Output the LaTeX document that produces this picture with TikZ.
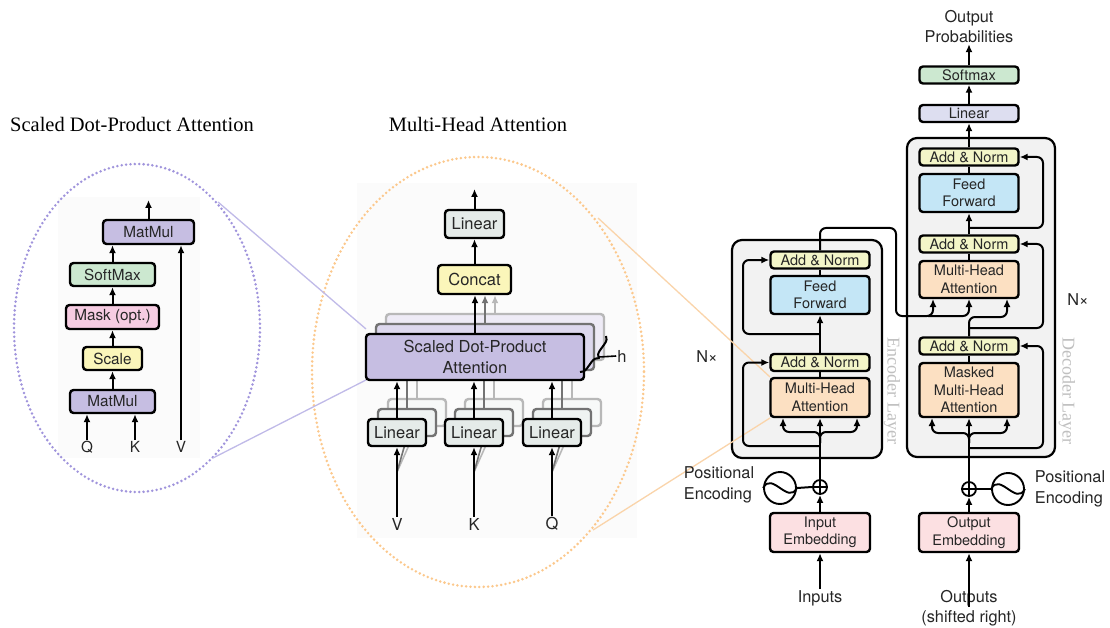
\documentclass[tikz,border=0pt]{standalone}
\usepackage{fontspec}
\setmainfont{Liberation Serif}
\newfontfamily\hv{TeX Gyre Heros}
\usetikzlibrary{arrows.meta,decorations.pathreplacing,calc}
\definecolor{txt}{RGB}{38,38,38}
\definecolor{cAdd}{RGB}{243,245,200}
\definecolor{cFF}{RGB}{196,230,246}
\definecolor{cMHA}{RGB}{252,224,194}
\definecolor{cEmb}{RGB}{252,224,226}
\definecolor{cLinD}{RGB}{221,222,240}
\definecolor{cSoft}{RGB}{204,232,208}
\definecolor{cMat}{RGB}{198,190,226}
\definecolor{cMask}{RGB}{246,204,226}
\definecolor{cScale}{RGB}{251,246,186}
\definecolor{cLinM}{RGB}{229,235,233}
\definecolor{cLayer}{RGB}{242,242,242}
\definecolor{cPurL}{RGB}{160,148,220}
\definecolor{cPurLine}{RGB}{192,186,232}
\definecolor{cOrL}{RGB}{252,200,140}
\definecolor{cOrLine}{RGB}{250,212,170}
\definecolor{cLayerTxt}{RGB}{192,192,192}
\tikzset{
  bx/.style 2 args={draw=black, line width=2.4pt, rounded corners=3.5pt, inner sep=0pt,
     align=center, text=txt, minimum width=#1pt, minimum height=#2pt},
  fL/.style={font=\hv\fontsize{15.3}{17}\selectfont},
  fM/.style={font=\hv\fontsize{16.5}{21}\selectfont},
  fR/.style={font=\hv\fontsize{14.5}{17.5}\selectfont},
  lbl/.style={text=txt, inner sep=1pt, align=center, font=\hv\fontsize{16.3}{20.5}\selectfont},
  conn/.style={line width=2pt, rounded corners=6pt},
  arr/.style={line width=2pt, rounded corners=6pt, -{Latex[length=8pt,width=7pt]}},
  layerbox/.style={draw=black, line width=2.2pt, rounded corners=10pt, fill=cLayer},
  ttl/.style={text=black, inner sep=0pt, font=\fontsize{20.5}{24}\selectfont},
  laytxt/.style={text=cLayerTxt, rotate=-90, inner sep=0pt, font=\fontsize{18}{20}\selectfont},
  dotell/.style={line width=2.8pt, line cap=round, dash pattern=on 0pt off 4.4pt},
}
\begin{document}
\begin{tikzpicture}[x=1pt,y=-1pt]
\useasboundingbox (0,0) rectangle (1110,628);
\fill[white] (0,0) rectangle (1110,628);
% faint panel backgrounds
\fill[black!1.5] (58,197) rectangle (200,458);
\fill[black!1.5] (357,183) rectangle (637,538);
% titles
\node[ttl] (t1) at (132,124) {Scaled Dot-Product Attention};
\node[ttl] (t2) at (478,124) {Multi-Head Attention};
% dotted ellipses
\draw[dotell, cPurL] (137,328) ellipse [x radius=123, y radius=164];
\draw[dotell, cOrL] (478,372) ellipse [x radius=166, y radius=215];
% encoder / decoder layer boxes
\draw[layerbox] (732,240) rectangle (882,458);
\draw[layerbox] (907,138) rectangle (1055,457);
% zoom lines
\draw[cPurLine, line width=1.3pt] (218,202) -- (366,329);
\draw[cPurLine, line width=1.3pt] (213,458) -- (366,380);
\draw[cOrLine, line width=1.3pt] (598,218) -- (770,377);
\draw[cOrLine, line width=1.3pt] (593,530) -- (770,418);

%%%%%%%% Left: Scaled Dot-Product Attention
\node[bx={91}{24}, fL, fill=cMat] (mm2) at (148.5,232) {MatMul};
\node[bx={85}{23}, fL, fill=cSoft] (sm) at (112.5,274.5) {SoftMax};
\node[bx={93}{24}, fL, fill=cMask] (mask) at (112.5,317) {Mask (opt.)};
\node[bx={59}{23}, fL, fill=cScale] (scl) at (112.5,358.5) {Scale};
\node[bx={85}{23}, fL, fill=cMat] (mm1) at (112.5,401.5) {MatMul};
\node[lbl, fL] (lq) at (87,447) {Q};
\node[lbl, fL] (lk) at (135,447) {K};
\node[lbl, fL] (lv) at (181,447) {V};
\coordinate (lout) at (148.5,200);
\draw[arr] (lq.north) -- (lq.north |- mm1.south);
\draw[arr] (lk.north) -- (lk.north |- mm1.south);
\draw[arr] (lv.north) -- (lv.north |- mm2.south);
\draw[arr] (mm1.north) -- (scl.south);
\draw[arr] (scl.north) -- (mask.south);
\draw[arr] (mask.north) -- (sm.south);
\draw[arr] (sm.north) -- (sm.north |- mm2.south);
\draw[arr] (mm2.north) -- (lout);

%%%%%%%% Middle: Multi-Head Attention
\node[bx={59}{28}, fM, fill=cLinM] (lintop) at (474.5,224) {Linear};
\node[bx={73}{29}, fM, fill=cScale] (concat) at (474.5,279.5) {Concat};
\coordinate (mout) at (474.5,189);
\draw[arr] (concat.north) -- (lintop.south);
\draw[arr] (lintop.north) -- (mout);
\foreach \o/\nm/\f/\d in {20/b/30/28, 10/a/60/55} {
  \begin{scope}[shift={(\o,-\o)}]
    \node[bx={218}{46}, fill=cMat!\f!white, draw=black!\d] (sdpa\nm) at (475,357) {};
    \foreach \x/\k in {397/V,474/K,552/Q} {
      \node[bx={58}{27}, fill=cLinM!\f!white, draw=black!\d] (lin\k\nm) at (\x,432.5) {};
      \draw[arr, black!\d] (lin\k\nm.north) -- (lin\k\nm.north |- sdpa\nm.south);
    }
    \draw[arr, black!\d] (sdpa\nm.north) -- (sdpa\nm.north |- concat.south);
  \end{scope}
}
\node[lbl, fM] (mv) at (397,524) {V};
\node[lbl, fM] (mk) at (474,524) {K};
\node[lbl, fM] (mq) at (552,524) {Q};
\foreach \k/\x in {V/397,K/474,Q/552} {
  \draw[line width=1.6pt, black!28] (\x,472) -- (lin\k b.south);
  \draw[line width=1.6pt, black!55] (\x,472) -- (lin\k a.south);
}
\node[bx={218}{46}, fM, fill=cMat] (sdpa) at (475,357) {Scaled Dot-Product\\Attention};
\node[bx={58}{27}, fM, fill=cLinM] (linV) at (397,432.5) {Linear};
\node[bx={58}{27}, fM, fill=cLinM] (linK) at (474,432.5) {Linear};
\node[bx={58}{27}, fM, fill=cLinM] (linQ) at (552,432.5) {Linear};
\draw[arr] (mv.north) -- (linV.south);
\draw[arr] (mk.north) -- (linK.south);
\draw[arr] (mq.north) -- (linQ.south);
\draw[arr] (linV.north) -- (linV.north |- sdpa.south);
\draw[arr] (linK.north) -- (linK.north |- sdpa.south);
\draw[arr] (linQ.north) -- (linQ.north |- sdpa.south);
\draw[arr] (sdpa.north) -- (sdpa.north |- concat.south);
\draw[line width=2pt, decorate, decoration={brace, amplitude=7pt}] (606,336) -- (580,372);
\node[lbl, fM] (hh) at (622,356) {h};
\draw[line width=1.6pt] (599,357) -- (hh.west);

%%%%%%%% Right: Encoder
\node[bx={99}{17}, fR, fill=cAdd] (eAN2) at (820,260) {Add \& Norm};
\node[bx={99}{38}, fR, fill=cFF] (eFF) at (820,295) {Feed\\Forward};
\node[bx={99}{17}, fR, fill=cAdd] (eAN1) at (820,362.5) {Add \& Norm};
\node[bx={99}{39}, fR, fill=cMHA] (eMHA) at (820,397.5) {Multi-Head\\Attention};
\node[bx={100}{39}, fR, fill=cEmb] (eEmb) at (820,532.5) {Input\\Embedding};
\node[circle, draw=black, line width=1.8pt, minimum size=14pt, inner sep=0pt, fill=white] (ePlus) at (820,487) {};
\draw[line width=1.6pt] (ePlus.north) -- (ePlus.south) (ePlus.west) -- (ePlus.east);
\node[circle, draw=black, line width=1.9pt, minimum size=32pt, inner sep=0pt] (eSin) at (780,488) {};
\draw[line width=1.9pt] (eSin.west) .. controls +(9,-17) and +(-9,17) .. (eSin.east);
\draw[line width=2pt] (eSin.east) -- (ePlus.west);
\node[lbl, align=left] (ePE) at (719,485) {Positional\\Encoding};
\node[lbl] (inp) at (820,598) {Inputs};
\node[lbl] (eN) at (707,357) {N×};
\node[laytxt] (eLay) at (892,391) {Encoder Layer};
\draw[arr] (inp.north) -- (eEmb.south);
\draw[arr] (eEmb.north) -- (ePlus.south);
\draw[arr] (ePlus.north) -- (eMHA.south);
\draw[arr] (820,443) |- (783,432) -- (783,418);
\draw[arr] (820,443) |- (857,432) -- (857,418);
\draw[arr] (820,446) -| (743,362.5) -- (eAN1.west);
\draw[conn] (eMHA.north) -- (eAN1.south);
\draw[arr] (eAN1.north) -- (eFF.south);
\draw[arr] (820,334) -| (743,260) -- (eAN2.west);
\draw[conn] (eFF.north) -- (eAN2.south);

%%%%%%%% Right: Decoder
\node[bx={99}{17}, fR, fill=cAdd] (dAN3) at (969,157) {Add \& Norm};
\node[bx={99}{38}, fR, fill=cFF] (dFF) at (969,193) {Feed\\Forward};
\node[bx={99}{17}, fR, fill=cAdd] (dAN2) at (969,244) {Add \& Norm};
\node[bx={99}{37}, fR, fill=cMHA] (dMHA) at (969,279.5) {Multi-Head\\Attention};
\node[bx={99}{17}, fR, fill=cAdd] (dAN1) at (969,346) {Add \& Norm};
\node[bx={99}{54}, fR, fill=cMHA] (dMMHA) at (969,390) {Masked\\Multi-Head\\Attention};
\node[bx={100}{39}, fR, fill=cEmb] (dEmb) at (969,532.5) {Output\\Embedding};
\node[bx={99}{17}, fR, fill=cLinD] (dLin) at (969,113.5) {Linear};
\node[bx={99}{17}, fR, fill=cSoft] (dSoft) at (969,75) {Softmax};
\node[circle, draw=black, line width=1.8pt, minimum size=14pt, inner sep=0pt, fill=white] (dPlus) at (969,489) {};
\draw[line width=1.6pt] (dPlus.north) -- (dPlus.south) (dPlus.west) -- (dPlus.east);
\node[circle, draw=black, line width=1.9pt, minimum size=32pt, inner sep=0pt] (dSin) at (1008,489) {};
\draw[line width=1.9pt] (dSin.west) .. controls +(9,-17) and +(-9,17) .. (dSin.east);
\draw[line width=2pt] (dPlus.east) -- (dSin.west);
\node[lbl, align=left] (dPE) at (1070,489) {Positional\\Encoding};
\node[lbl] (outs) at (969,608) {Outputs\\(shifted right)};
\node[lbl] (oprob) at (969,26.5) {Output\\Probabilities};
\node[lbl] (dN) at (1078,300) {N×};
\node[laytxt] (dLay) at (1067,391) {Decoder Layer};
\draw[arr] ([yshift=-18pt]outs.north) -- (dEmb.south);
\draw[arr] (dEmb.north) -- (dPlus.south);
\draw[arr] (dPlus.north) -- (dMMHA.south);
\draw[arr] (969,443) |- (932,433) -- (932,418);
\draw[arr] (969,443) |- (1007,433) -- (1007,418);
\draw[arr] (969,448) -| (1043,346) -- (dAN1.east);
\draw[conn] (dMMHA.north) -- (dAN1.south);
\draw[arr] (dAN1.north) |- (1007,317) -- (1007,299);
\draw[arr] (969,328) -| (1043,244) -- (dAN2.east);
\draw[conn] (dMHA.north) -- (dAN2.south);
\draw[arr] (dAN2.north) -- (dFF.south);
\draw[arr] (969,228) -| (1043,157) -- (dAN3.east);
\draw[conn] (dFF.north) -- (dAN3.south);
\draw[arr] (dAN3.north) -- (dLin.south);
\draw[arr] (dLin.north) -- (dSoft.south);
\draw[arr] (dSoft.north) -- (oprob.south);
% encoder output into decoder
\draw[arr] (eAN2.north) |- (896,228) |- (933,316) -- (933,299);
\draw[arr] (928,316) -| (969,299);
\end{tikzpicture}
\end{document}
